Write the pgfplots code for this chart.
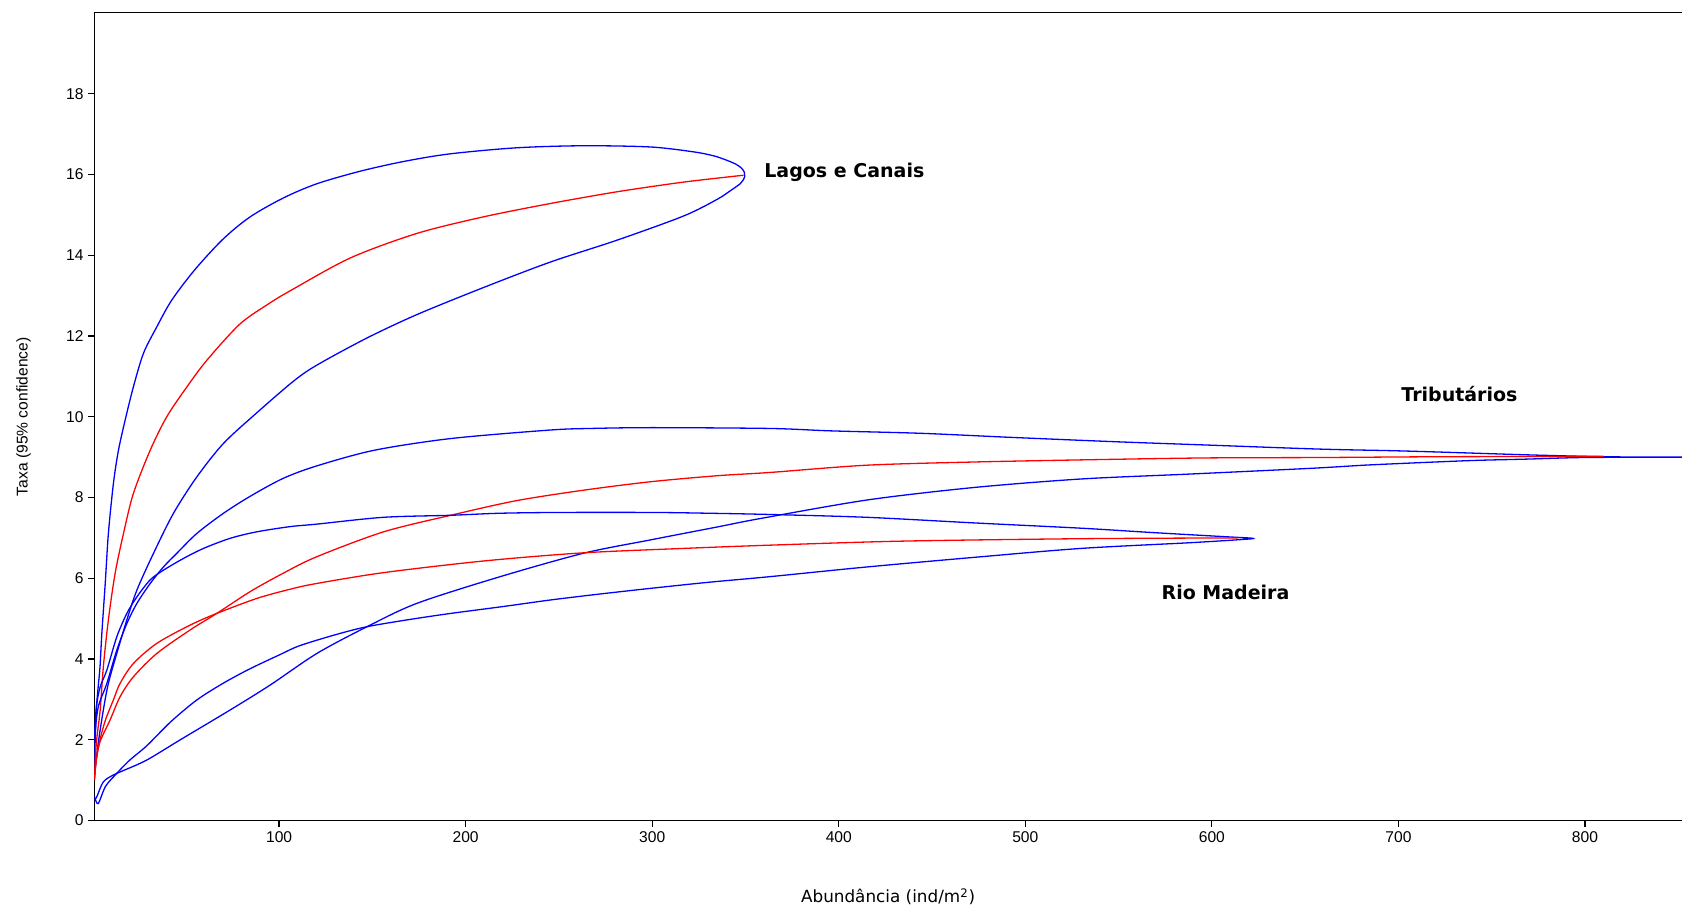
\documentclass[border=0pt]{standalone}
\usepackage{fontspec}
\setmainfont{Liberation Sans}
\newfontfamily\labfont{DejaVu Sans}
\usepackage{pgfplots}
\pgfplotsset{compat=1.18}
\definecolor{ciblue}{RGB}{0,0,255}
\definecolor{meanred}{RGB}{255,0,0}

\begin{document}
\begin{tikzpicture}
\begin{axis}[
    scale only axis,
    width=793.8pt, height=403.85pt,
    xmin=1, xmax=852, ymin=0, ymax=20,
    axis x line=box, axis y line*=left,
    y axis line style={-},
    xtick pos=bottom, ytick pos=left,
    xtick={100,200,...,800},
    ytick={0,2,...,18},
    tick align=outside,
    major tick length=3.2pt,
    tick style={black, line width=0.6pt},
    axis line style={black, line width=0.6pt},
    /pgf/number format/assume math mode=true,
    ticklabel style={font=\fontsize{7.8}{9}\selectfont, inner sep=2pt},
    xlabel={Abundância (ind/m\textsuperscript{2})},
    ylabel={Taxa (95\% confidence)},
    xlabel style={font=\labfont\fontsize{8.4}{10}\selectfont, at={(axis description cs:0.5,-0.0941)}, anchor=center},
    ylabel style={font=\fontsize{7.8}{9}\selectfont, at={(axis description cs:-0.0446,0.5)}, anchor=center},
    every axis plot/.append style={smooth, tension=0.5, line width=0.65pt},
    clip=true,
]
% Lagos e Canais: 95% interval (upper, then lower back)
\addplot[ciblue] coordinates {
(1,1.4)(2,2.7)(3,3.3)(4,3.8)(5,4.64)(6.8,5.87)(8.5,7.11)(11.2,8.35)(13.9,9.17)(17.5,9.92)
(21.9,10.74)(27.3,11.57)(34.5,12.23)(42.5,12.89)(55,13.65)(70,14.4)(84.5,14.95)(102.4,15.42)
(120.3,15.77)(143.5,16.08)(166.7,16.32)(191.7,16.51)(227.5,16.66)(263,16.71)(299,16.68)
(322,16.56)(333,16.46)(340,16.35)(345,16.25)(348,16.15)(349.4,16.05)(349.6,15.95)(348.6,15.85)
(347.2,15.77)(342,15.6)(334.7,15.38)(316.8,14.97)(281,14.37)(245.4,13.83)(209.6,13.2)
(173.9,12.53)(147.1,11.95)(120.3,11.28)(107.7,10.88)(88.1,10.1)(70.2,9.34)(55.9,8.51)
(43.4,7.61)(32.7,6.62)(23.8,5.71)(18.4,4.97)(13,4.14)(8.5,3.4)(5.8,2.74)(3,1.9)(1,1.1)
};
% Lagos e Canais: mean
\addplot[meanred] coordinates {
(1,1)(2,1.9)(4.1,2.74)(5.8,3.81)(8.5,4.97)(12.1,6.12)(16.6,7.11)(21.9,8.1)(30.9,9.17)
(39.8,10.0)(50.6,10.74)(61.3,11.4)(79.1,12.3)(95.2,12.82)(106,13.12)(138.1,13.93)
(173.9,14.54)(209.6,14.95)(245.4,15.28)(281.1,15.57)(316.8,15.81)(349,15.98)
};
% Tributarios: 95% interval
\addplot[ciblue] coordinates {
(1,2.0)(3,2.8)(7.7,3.4)(13,4.22)(18.4,4.88)(23.8,5.38)(30.9,5.87)(38,6.28)(45.2,6.62)
(55.9,7.11)(70.2,7.61)(84.5,8.03)(102,8.47)(120,8.78)(151,9.17)(192,9.46)(245,9.67)
(267,9.71)(300,9.73)(363,9.71)(396,9.65)(444,9.59)(492,9.49)(549,9.38)(597,9.3)(657,9.2)
(696,9.16)(719,9.13)(746,9.09)(774,9.05)(810,9.01)(845,9.0)(860,9.0)(845,9.0)(799,8.99)
(768,8.95)(742,8.92)(720,8.88)(700,8.84)(681.5,8.8)(663.6,8.75)(647.5,8.71)(587.8,8.58)
(530.3,8.46)(472.9,8.25)(415.4,7.94)(358,7.48)(334.8,7.27)(299,6.95)(263.2,6.62)
(218.5,6.04)(173.9,5.38)(147.1,4.8)(120.3,4.14)(95,3.35)(73.8,2.74)(47,2.0)(29.1,1.5)
(16.6,1.24)(11.2,1.13)(5.8,0.96)(2.3,0.59)(1,0.5)
};
% Tributarios: mean
\addplot[meanred] coordinates {
(1,1.0)(2,1.5)(4,1.95)(9.4,2.49)(14.8,3.07)(21.9,3.56)(34.5,4.14)(52.3,4.72)(66.6,5.13)
(84.5,5.67)(102,6.12)(120,6.53)(156,7.15)(192,7.56)(227,7.92)(263,8.18)(299,8.39)
(335,8.54)(363,8.62)(415,8.8)(473,8.88)(540,8.94)(597,8.98)(657,8.99)(723,9.01)(810,9.02)
};
% Rio Madeira: 95% interval
\addplot[ciblue] coordinates {
(1,2.0)(2,2.8)(4.1,3.31)(7.7,3.73)(13,4.55)(18.4,5.13)(23.8,5.54)(30.9,5.96)(38,6.2)
(48.7,6.49)(59.5,6.74)(73.8,6.99)(88,7.15)(106,7.28)(120,7.34)(156,7.51)(192,7.56)
(218,7.61)(250,7.63)(300,7.63)(331,7.61)(363,7.58)(415,7.51)(473,7.37)(530,7.24)
(569,7.13)(607,7.03)(622,6.99)(616,6.96)(588,6.88)(530,6.74)(473,6.52)(415,6.28)
(363,6.04)(330,5.9)(299,5.75)(270,5.6)(245,5.46)(220,5.3)(192,5.13)(170,4.98)(147,4.8)
(130,4.6)(111,4.33)(100,4.1)(84,3.75)(70,3.4)(56,2.99)(42,2.45)(29,1.85)(20,1.5)
(13,1.17)(7,0.85)(3,0.42)(1,0.6)
};
% Rio Madeira: mean
\addplot[meanred] coordinates {
(1,1.0)(2,1.5)(4,2.0)(7,2.5)(11.2,2.99)(14.8,3.4)(21.9,3.89)(34.5,4.39)(52.3,4.84)
(66.6,5.13)(88,5.5)(106,5.73)(120,5.87)(156,6.14)(210,6.43)(263,6.63)(317,6.74)
(363,6.82)(434,6.92)(530,6.98)(614,7.0)
};

\node[font=\labfont\bfseries\fontsize{9.5}{11}\selectfont] at (axis cs:403,16.06) {Lagos e Canais};
\node[font=\labfont\bfseries\fontsize{9.5}{11}\selectfont] at (axis cs:732.7,10.57) {Tributários};
\node[font=\labfont\bfseries\fontsize{9.5}{11}\selectfont] at (axis cs:607.3,5.66) {Rio Madeira};

\coordinate (ll) at (rel axis cs:0,0);
\coordinate (ur) at (rel axis cs:1,1);
\end{axis}
\pgfresetboundingbox
\useasboundingbox ([xshift=-47.2pt,yshift=-44.2pt]ll) rectangle ([yshift=6.45pt]ur);
\end{tikzpicture}
\end{document}
